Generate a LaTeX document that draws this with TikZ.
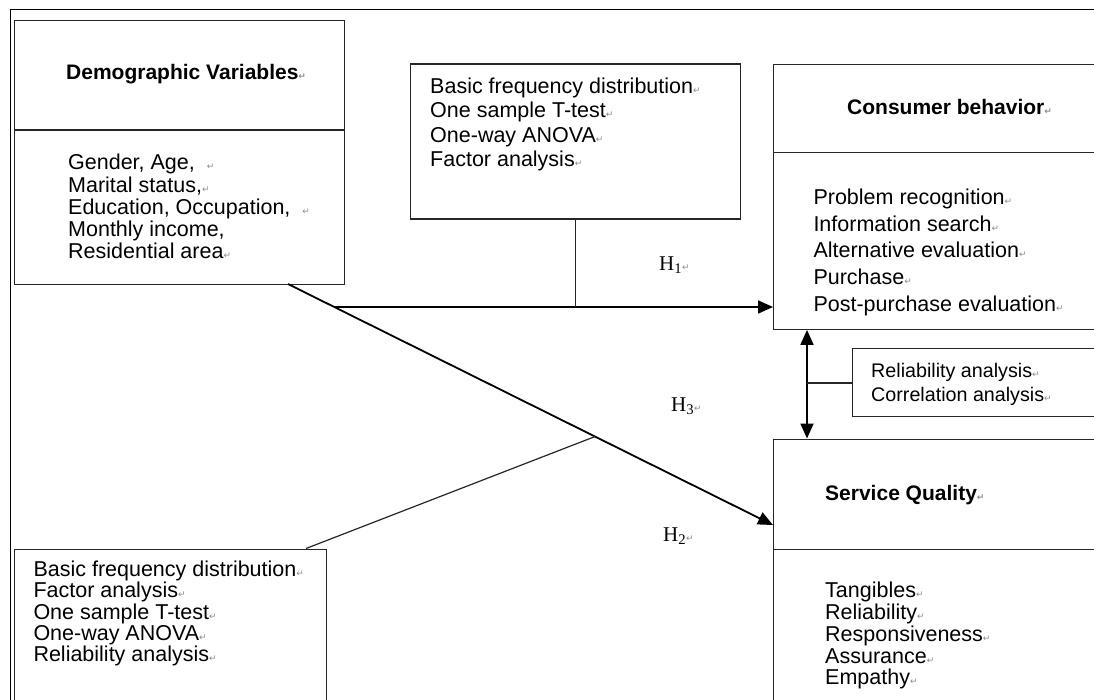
\documentclass[tikz,border=0pt]{standalone}
\usepackage{fontspec}
\setmainfont{Liberation Sans}
\newfontfamily\hfont{Liberation Serif}
\newfontfamily\symfont{DejaVu Sans}
\usetikzlibrary{arrows.meta,calc}
\newcommand\parmark{{\symfont\fontsize{9}{9}\selectfont\color{black!45}↵}}
\tikzset{
  box/.style={draw=black!85, line width=1.4pt, rectangle, anchor=north west, inner sep=0pt},
  txt/.style={anchor=base west, inner sep=0pt, font=\fontsize{21.5}{21.5}\selectfont},
  stxt/.style={anchor=base west, inner sep=0pt, font=\fontsize{19.7}{19.7}\selectfont},
  ttl/.style={anchor=base west, inner sep=0pt, font=\fontsize{21}{21}\selectfont\bfseries},
  hlab/.style={anchor=base west, inner sep=0pt, font=\hfont\fontsize{21}{21}\selectfont},
  arr/.style={line width=1.8pt, -{Triangle[length=15pt,width=13pt]}},
  darr/.style={line width=1.8pt, {Triangle[length=15pt,width=13pt]}-{Triangle[length=15pt,width=13pt]}},
  thin/.style={draw=black!85, line width=1.2pt},
  frame/.style={draw=black, line width=1pt}
}
\begin{document}
\begin{tikzpicture}[x=1pt,y=-1pt]
\useasboundingbox (0,0) rectangle (1094,700);
\clip (0,0) rectangle (1094,700);
\fill[white] (0,0) rectangle (1094,700);
% outer frame
\draw[frame] (10,710) -- (10,10) -- (1100,10);

% boxes
\node[box, minimum width=330pt, minimum height=264pt] (demo) at (14,20) {};
\node[box, minimum width=330pt, minimum height=155pt] (stat1) at (410,63.5) {};
\node[box, minimum width=340pt, minimum height=264.5pt] (cb) at (773,64) {};
\node[box, minimum width=260pt, minimum height=68pt] (rel) at (852,348) {};
\node[box, minimum width=340pt, minimum height=300pt] (sq) at (773,438.5) {};
\node[box, minimum width=312pt, minimum height=200pt] (stat2) at (14,548.5) {};

% dividers
\draw[thin] (demo.west |- 0,130) -- (demo.east |- 0,130);
\draw[thin] (cb.west |- 0,152.3) -- (cb.east |- 0,152.3);
\draw[thin] (sq.west |- 0,549.5) -- (sq.east |- 0,549.5);

% titles
\node[ttl] (demoT) at (66,80) {Demographic Variables\parmark};
\node[ttl] (cbT) at (847,115) {Consumer behavior\parmark};
\node[ttl] (sqT) at (825,500.7) {Service Quality\parmark};

% text lines
\foreach \t [count=\i] in {{Gender, Age, \ \parmark}, {Marital status,\parmark}, {Education, Occupation, \ \parmark}, {Monthly income,}, {Residential area\parmark}}
  \node[txt] (demo-\i) at (68,{170+22.25*(\i-1)}) {\t};
\foreach \t [count=\i] in {{Basic frequency distribution\parmark}, {One sample T-test\parmark}, {One-way ANOVA\parmark}, {Factor analysis\parmark}}
  \node[txt] (stat1-\i) at (430,{93.3+24.45*(\i-1)}) {\t};
\foreach \t [count=\i] in {{Problem recognition\parmark}, {Information search\parmark}, {Alternative evaluation\parmark}, {Purchase\parmark}, {Post-purchase evaluation\parmark}}
  \node[txt] (cb-\i) at (813.3,{204.3+26.85*(\i-1)}) {\t};
\foreach \t [count=\i] in {{Reliability analysis\parmark}, {Correlation analysis\parmark}}
  \node[stxt] (rel-\i) at (871,{377.3+24.4*(\i-1)}) {\t};
\foreach \t [count=\i] in {{Tangibles\parmark}, {Reliability\parmark}, {Responsiveness\parmark}, {Assurance\parmark}, {Empathy\parmark}}
  \node[txt] (sq-\i) at (825,{597.3+21.9*(\i-1)}) {\t};
\foreach \t [count=\i] in {{Basic frequency distribution\parmark}, {Factor analysis\parmark}, {One sample T-test\parmark}, {One-way ANOVA\parmark}, {Reliability analysis\parmark}}
  \node[txt] (stat2-\i) at (33.3,{576.7+21.25*(\i-1)}) {\t};

% hypothesis labels
\node[hlab] (h1) at (659,270.7) {H\textsubscript{1}\parmark};
\node[hlab] (h3) at (671,411.7) {H\textsubscript{3}\parmark};
\node[hlab] (h2) at (663,541.7) {H\textsubscript{2}\parmark};

% connectors
\coordinate (d2s) at (288,284);
\coordinate (d2e) at (773,525);
\coordinate (h1s) at (334.3,307);
\draw[arr] (h1s) -- (cb.west |- h1s);
\draw[thin] (stat1.south) -- (stat1.south |- h1s);
\draw[arr] (d2s) -- (d2e);
\coordinate (d2m) at ($(d2s)!0.633!(d2e)$);
\draw[thin] (stat2.north west -| 306,0) -- (d2m);
\draw[darr] (cb.south -| 807,0) -- (sq.north -| 807,0);
\draw[thin] (807,383) -- (rel.west |- 0,383);
\end{tikzpicture}
\end{document}
